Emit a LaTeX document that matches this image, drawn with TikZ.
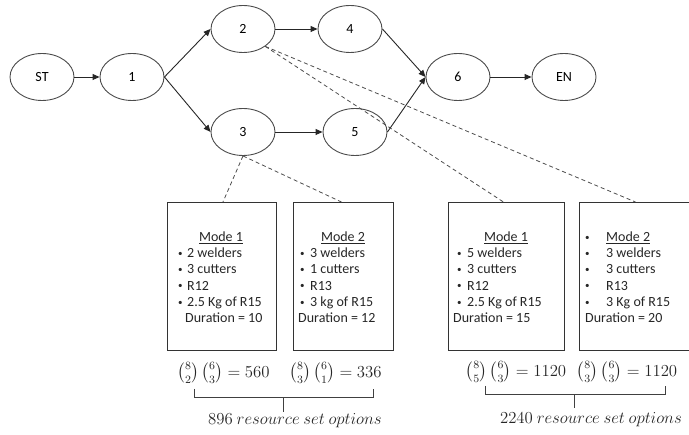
\documentclass[tikz,border=0pt]{standalone}
\usepackage{amsmath}
\usepackage[no-math]{fontspec}
\setmainfont{Carlito}
\usetikzlibrary{shapes.geometric,arrows.meta}
\begin{document}
\begin{tikzpicture}[x=1pt,y=-1pt,
 ev/.style={ellipse,draw=black!70,line width=0.9pt,minimum width=64pt,minimum height=47pt,inner sep=0pt,font=\fontsize{14}{16}\selectfont},
 arr/.style={-{Triangle[length=7pt,width=6pt]},line width=0.9pt,draw=black!85},
 dsh/.style={dash pattern=on 4pt off 3pt,line width=0.8pt,draw=black!70},
 modebox/.style={draw=black!80,line width=0.9pt,minimum width=#1,minimum height=148pt,inner sep=0pt,anchor=north west},
 txt/.style={anchor=base west,font=\fontsize{14}{16}\selectfont,inner sep=0pt,text=black!85},
 bul/.style={anchor=base west,font=\fontsize{9}{10}\selectfont,inner sep=0pt,text=black!85,yshift=1.2pt},
 ttl/.style={anchor=base,font=\fontsize{14}{16}\selectfont,inner sep=0pt,text=black!85},
 frm/.style={font=\fontsize{12}{14}\selectfont,inner sep=0pt,text=black!85,scale=1.4},
 brk/.style={line width=1pt,draw=black!75},
]
\clip (0,0) rectangle (689,435);
% events
\node[ev] (st) at (42,77) {ST};
\node[ev] (n1) at (132,77) {1};
\node[ev] (n2) at (243,29) {2};
\node[ev] (n3) at (243,132) {3};
\node[ev] (n4) at (350,29) {4};
\node[ev] (n5) at (355,132) {5};
\node[ev] (n6) at (458,77) {6};
\node[ev] (en) at (564,77) {EN};
\draw[arr] (st) -- (n1);
\draw[arr] (n1.east) -- (n2.west);
\draw[arr] (n1.east) -- (n3.west);
\draw[arr] (n2) -- (n4);
\draw[arr] (n3) -- (n5);
\draw[arr] (n4.east) -- (n6.west);
\draw[arr] (n5.east) -- (n6.west);
\draw[arr] (n6) -- (en);
% boxes
\node[modebox=109pt] (bA) at (167,202) {};
\node[modebox=100pt] (bB) at (293,202) {};
\node[modebox=116pt] (bC) at (448,202) {};
\node[modebox=116pt] (bD) at (579,202) {};
% dashed links
\draw[dsh] (n3.south) -- ([xshift=1pt]bA.north);
\draw[dsh] (n3.south) -- ([xshift=-2pt]bB.north);
\draw[dsh] (n2.-38) -- ([xshift=-3pt]bC.north);
\draw[dsh] (n2.-38) -- ([xshift=-2pt]bD.north);
% box A
\node[ttl] (a0) at (221,241.5) {\underline{Mode 1}};
\node[bul] (a1b) at (178,257.7) {•};
\node[txt] (a1) at (187,257.7) {2 welders};
\node[bul] (a2b) at (178,273.9) {•};
\node[txt] (a2) at (187,273.9) {3 cutters};
\node[bul] (a3b) at (178,290.1) {•};
\node[txt] (a3) at (187,290.1) {R12};
\node[bul] (a4b) at (178,306.3) {•};
\node[txt] (a4) at (187,306.3) {2.5 Kg of R15};
\node[txt] (a5) at (185,322.5) {Duration = 10};
% box B
\node[ttl] (b0) at (343,241.5) {\underline{Mode 2}};
\node[bul] (b1b) at (300,257.7) {•};
\node[txt] (b1) at (310,257.7) {3 welders};
\node[bul] (b2b) at (300,273.9) {•};
\node[txt] (b2) at (310,273.9) {1 cutters};
\node[bul] (b3b) at (300,290.1) {•};
\node[txt] (b3) at (310,290.1) {R13};
\node[bul] (b4b) at (300,306.3) {•};
\node[txt] (b4) at (310,306.3) {3 kg of R15};
\node[txt] (b5) at (298,322.5) {Duration = 12};
% box C
\node[ttl] (c0) at (506,241.5) {\underline{Mode 1}};
\node[bul] (c1b) at (457,257.7) {•};
\node[txt] (c1) at (467,257.7) {5 welders};
\node[bul] (c2b) at (457,273.9) {•};
\node[txt] (c2) at (467,273.9) {3 cutters};
\node[bul] (c3b) at (457,290.1) {•};
\node[txt] (c3) at (467,290.1) {R12};
\node[bul] (c4b) at (457,306.3) {•};
\node[txt] (c4) at (467,306.3) {2.5 Kg of R15};
\node[txt] (c5) at (453,322.5) {Duration = 15};
% box D
\node[bul] (d0b) at (585,241.5) {•};
\node[txt] (d0) at (606,241.5) {\underline{Mode 2}};
\node[bul] (d1b) at (585,257.7) {•};
\node[txt] (d1) at (606,257.7) {3 welders};
\node[bul] (d2b) at (585,273.9) {•};
\node[txt] (d2) at (606,273.9) {3 cutters};
\node[bul] (d3b) at (585,290.1) {•};
\node[txt] (d3) at (606,290.1) {R13};
\node[bul] (d4b) at (585,306.3) {•};
\node[txt] (d4) at (606,306.3) {3 Kg of R15};
\node[txt] (d5) at (585,322.5) {Duration = 20};
% formulas
\node[frm] (fA) at (223.5,373) {$\tbinom{8}{2}\,\tbinom{6}{3} = 560$};
\node[frm] (fB) at (335.5,373) {$\tbinom{8}{3}\,\tbinom{6}{1} = 336$};
\node[frm] (fC) at (516,372) {$\tbinom{8}{5}\,\tbinom{6}{3} = 1120$};
\node[frm] (fD) at (627,372) {$\tbinom{8}{3}\,\tbinom{6}{3} = 1120$};
% brackets
\draw[brk] (194,389) -- (194,398) -- (373,398) -- (373,389);
\draw[brk] (283,398) -- (283,412);
\draw[brk] (485,386) -- (485,395) -- (665,395) -- (665,386);
\draw[brk] (574,395) -- (574,408);
\node[frm] (rA) at (295,421) {$896\ resource\ set\ options$};
\node[frm] (rB) at (591,420) {$2240\ resource\ set\ options$};
\end{tikzpicture}
\end{document}
